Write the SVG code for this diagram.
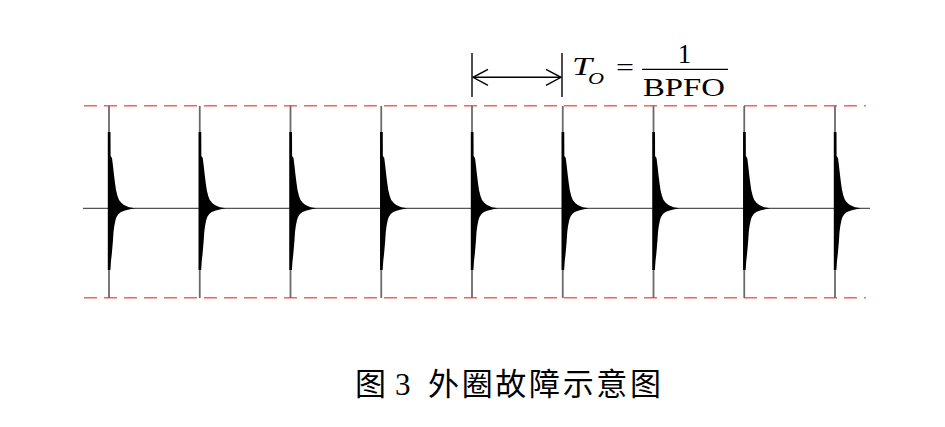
<svg xmlns="http://www.w3.org/2000/svg" xmlns:xlink="http://www.w3.org/1999/xlink" width="945" height="427" viewBox="0 0 945 427">
<style>
.ref{stroke:#ff5c5c;stroke-width:1.5;stroke-dasharray:13 7;fill:none}
.axis{stroke:#555;stroke-width:1.2;fill:none}
.stem{stroke:#6a6a6a;stroke-width:1.8;fill:none}
.burst{fill:#000}
.dim{stroke:#000;stroke-width:1.4;fill:none}
.ser{font-family:"Liberation Serif","Times New Roman",serif;fill:#000}
.it{font-style:italic}
.cap{font-family:"Liberation Serif","Noto Sans CJK SC",serif;font-size:31px;fill:#000}
</style>
<defs>
<path id="burstShape" class="burst" d="M -1.2,132 L 1.5,132 L 1.6,156 L 3,158 L 4,166 L 5,175 L 6,183 L 7,190 L 8.5,196 L 10,200 L 12.5,203 L 15,205 L 20,207.3 L 26,208.3 L 20,209.4 L 16,210.5 L 12,212 L 9.5,214 L 7.5,217 L 6.5,220 L 5.3,226 L 4.5,232 L 4,240 L 3.5,246 L 2.8,254 L 2,261 L 1.4,270 L -1.2,270 Z"/>
<marker id="head" viewBox="0 0 17 18" refX="16" refY="9" markerWidth="17" markerHeight="18" markerUnits="userSpaceOnUse" orient="auto-start-reverse">
<path d="M1,1 L16,9 L1,17" fill="none" stroke="#000" stroke-width="1.4"/>
</marker>
</defs>
<g id="reference-lines">
<line class="ref" x1="84" y1="105.7" x2="866" y2="105.7"/>
<line class="ref" x1="84" y1="297.7" x2="866" y2="297.7"/>
</g>
<g id="baseline">
<line class="axis" x1="83" y1="208.4" x2="870" y2="208.4"/>
</g>
<g id="impulses">
<g id="impulse1"><line class="stem" x1="109" y1="106" x2="109" y2="298"/><use xlink:href="#burstShape" x="109"/></g>
<g id="impulse2"><line class="stem" x1="199.75" y1="106" x2="199.75" y2="298"/><use xlink:href="#burstShape" x="199.75"/></g>
<g id="impulse3"><line class="stem" x1="290.5" y1="106" x2="290.5" y2="298"/><use xlink:href="#burstShape" x="290.5"/></g>
<g id="impulse4"><line class="stem" x1="381.25" y1="106" x2="381.25" y2="298"/><use xlink:href="#burstShape" x="381.25"/></g>
<g id="impulse5"><line class="stem" x1="472" y1="106" x2="472" y2="298"/><use xlink:href="#burstShape" x="472"/></g>
<g id="impulse6"><line class="stem" x1="562.75" y1="106" x2="562.75" y2="298"/><use xlink:href="#burstShape" x="562.75"/></g>
<g id="impulse7"><line class="stem" x1="653.5" y1="106" x2="653.5" y2="298"/><use xlink:href="#burstShape" x="653.5"/></g>
<g id="impulse8"><line class="stem" x1="744.25" y1="106" x2="744.25" y2="298"/><use xlink:href="#burstShape" x="744.25"/></g>
<g id="impulse9"><line class="stem" x1="835" y1="106" x2="835" y2="298"/><use xlink:href="#burstShape" x="835"/></g>
</g>
<g id="connectors">
<line class="dim" x1="472" y1="53" x2="472" y2="97"/>
<line class="dim" x1="562" y1="53" x2="562" y2="97"/>
<line class="dim" x1="473" y1="77.3" x2="561" y2="77.3" marker-start="url(#head)" marker-end="url(#head)"/>
</g>
<g id="formula">
<text class="ser it" x="572" y="75" font-size="26" textLength="20" lengthAdjust="spacingAndGlyphs">T</text>
<text class="ser it" x="588" y="84" font-size="16" textLength="16" lengthAdjust="spacingAndGlyphs">O</text>
<text class="ser" x="616" y="75.5" font-size="26" textLength="18" lengthAdjust="spacingAndGlyphs">=</text>
<text class="ser" x="684.5" y="62.5" font-size="27" text-anchor="middle">1</text>
<line x1="642" y1="69.3" x2="728" y2="69.3" stroke="#000" stroke-width="1.3"/>
<text class="ser" x="643" y="95.5" font-size="25" textLength="82" lengthAdjust="spacingAndGlyphs">BPFO</text>
</g>
<g id="caption">
<text class="cap" y="395"><tspan x="355">图</tspan><tspan x="395">3</tspan><tspan x="428" textLength="233" lengthAdjust="spacing">外圈故障示意图</tspan></text>
</g>
</svg>
